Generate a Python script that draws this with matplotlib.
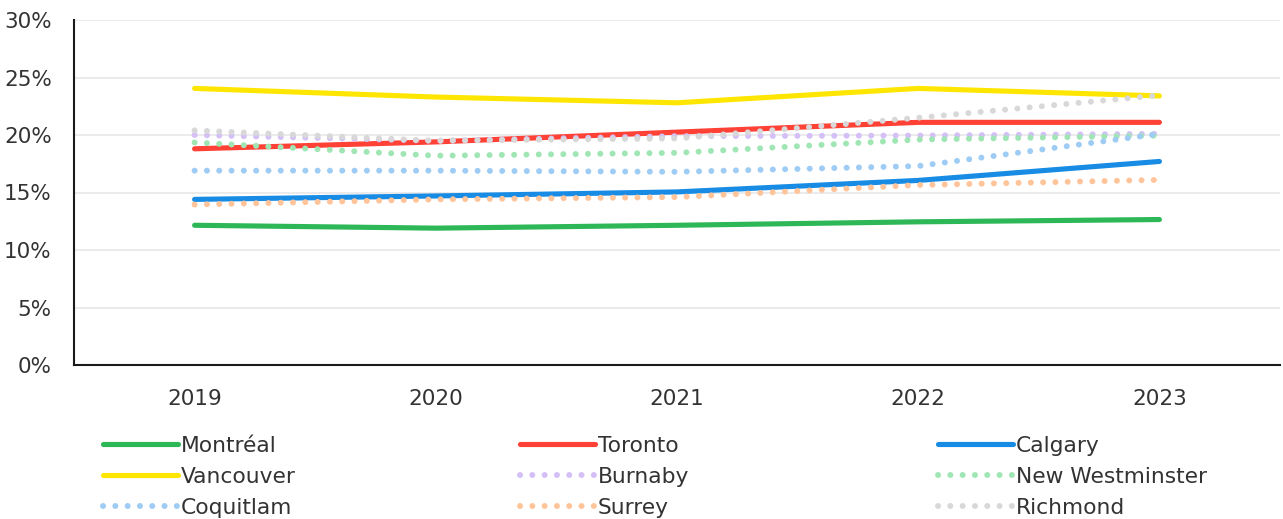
import matplotlib
matplotlib.use("Agg")
import matplotlib.pyplot as plt
from matplotlib.ticker import FuncFormatter

years = ["2019", "2020", "2021", "2022", "2023"]

montreal = [12.15, 11.9, 12.15, 12.45, 12.65]
toronto = [18.8, 19.4, 20.25, 21.1, 21.1]
calgary = [14.4, 14.7, 15.05, 16.05, 17.7]
vancouver = [24.05, 23.3, 22.8, 24.05, 23.4]
burnaby = [20.0, 19.5, 19.9, 19.95, 20.1]
new_westminster = [19.35, 18.2, 18.45, 19.6, 19.95]
coquitlam = [16.9, 16.9, 16.8, 17.3, 20.1]
surrey = [13.95, 14.4, 14.6, 15.65, 16.1]
richmond = [20.4, 19.5, 19.7, 21.5, 23.45]

series = [
    ("Montréal", montreal, "#2DB757", "solid"),
    ("Toronto", toronto, "#FF4136", "solid"),
    ("Calgary", calgary, "#188CE5", "solid"),
    ("Vancouver", vancouver, "#FFE600", "solid"),
    ("Burnaby", burnaby, "#D4BFF7", "dot"),
    ("New Westminster", new_westminster, "#A0E6B4", "dot"),
    ("Coquitlam", coquitlam, "#9ECCF5", "dot"),
    ("Surrey", surrey, "#FFC49A", "dot"),
    ("Richmond", richmond, "#D8D8D8", "dot"),
]

text_color = "#333333"
plt.rcParams["font.family"] = ["DejaVu Sans"]

fig = plt.figure(figsize=(12.83, 5.19), dpi=100)
ax = fig.add_axes([74 / 1283, 1 - 365 / 519, (1280 - 74) / 1283, (365 - 20) / 519])

x = list(range(len(years)))
handles = {}
for name, vals, col, style in series:
    if style == "solid":
        (ln,) = ax.plot(x, vals, color=col, lw=3.7, solid_capstyle="round",
                        solid_joinstyle="round", label=name)
    else:
        (ln,) = ax.plot(x, vals, color=col, lw=4.3, linestyle=(0, (0.01, 2.05)),
                        dash_capstyle="round", label=name)
    handles[name] = ln

ax.set_xlim(-0.5, 4.5)
ax.set_ylim(0, 30)
ax.set_xticks(x)
ax.set_xticklabels(years)
ax.set_yticks([0, 5, 10, 15, 20, 25, 30])
ax.yaxis.set_major_formatter(FuncFormatter(lambda v, p: f"{v:.0f}%"))
ax.tick_params(axis="both", length=0, labelsize=15.5, colors=text_color)
ax.tick_params(axis="y", pad=16)
ax.tick_params(axis="x", pad=17)
ax.grid(axis="y", color="#EBEBEB", lw=1.4)
ax.set_axisbelow(True)
for s in ["top", "right"]:
    ax.spines[s].set_visible(False)
for s in ["left", "bottom"]:
    ax.spines[s].set_color("#1A1A1A")
    ax.spines[s].set_linewidth(1.5)

columns = [
    ["Montréal", "Vancouver", "Coquitlam"],
    ["Toronto", "Burnaby", "Surrey"],
    ["Calgary", "New Westminster", "Richmond"],
]
col_x = [103 / 1283, 520 / 1283, 938 / 1283]
for cx, names in zip(col_x, columns):
    leg = fig.legend([handles[n] for n in names], names, loc="upper left",
                     bbox_to_anchor=(cx, 1 - 436 / 519), frameon=False,
                     fontsize=15.7, handlelength=3.45, handletextpad=0.12,
                     labelspacing=0.5, borderpad=0, borderaxespad=0)
    for t in leg.get_texts():
        t.set_color(text_color)

fig.savefig("out.png", dpi=100)
